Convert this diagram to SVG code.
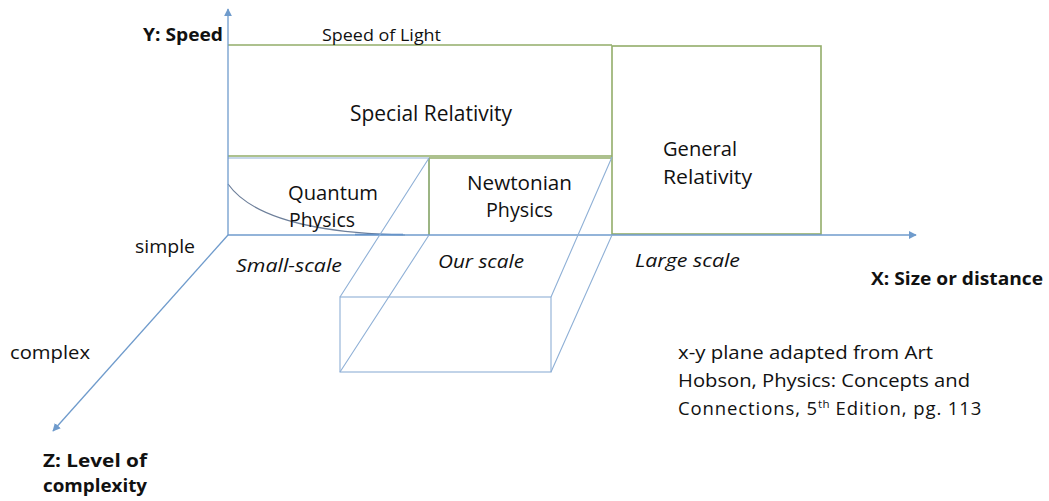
<svg xmlns="http://www.w3.org/2000/svg" width="1049" height="501" viewBox="0 0 1049 501">
<style>
text{font-family:"Open Sans",Lato,"Liberation Sans",sans-serif;fill:#111;}
.b{font-weight:bold;}
.i{font-style:italic;}
.ax{stroke:#6f9bcc;stroke-width:1.3;fill:none;}
.gr{stroke:#93ad6a;stroke-width:1.6;fill:none;}
.bl{stroke:#8fb0d6;stroke-width:1.1;fill:none;}
</style>
<defs>
<marker id="arr" viewBox="0 0 10 10" refX="9" refY="5" markerWidth="8" markerHeight="8" markerUnits="userSpaceOnUse" orient="auto">
<path d="M0,0 L10,5 L0,10 z" fill="#6f9bcc"/>
</marker>
</defs>
<rect width="1049" height="501" fill="#fff"/>

<g id="special-relativity">
<path class="gr" d="M228,45 H612 M228,156 H612"/>
<text x="350" y="121" font-size="21" textLength="162" lengthAdjust="spacingAndGlyphs">Special Relativity</text>
</g>
<g id="general-relativity">
<rect class="gr" x="612" y="46" width="209" height="188"/>
<text x="663" y="156" font-size="20" textLength="74" lengthAdjust="spacingAndGlyphs">General</text>
<text x="663" y="184" font-size="20" textLength="89" lengthAdjust="spacingAndGlyphs">Relativity</text>
</g>
<g id="quantum-physics">
<path class="bl" d="M228,158 H429 V235"/>
<path d="M228,184 Q262,232 405,235" stroke="#6d7f9a" stroke-width="1.2" fill="none"/>
<path d="M355,234.5 H403" stroke="#4b7fc0" stroke-width="1.6"/>
<text x="288" y="200" font-size="20" textLength="90" lengthAdjust="spacingAndGlyphs">Quantum</text>
<text x="289" y="227" font-size="20" textLength="66" lengthAdjust="spacingAndGlyphs">Physics</text>
</g>
<g id="newtonian-physics">
<path class="gr" d="M429,158 H612 M429,158 V235"/>
<text x="467" y="190" font-size="20" textLength="105" lengthAdjust="spacingAndGlyphs">Newtonian</text>
<text x="486" y="217" font-size="20" textLength="67" lengthAdjust="spacingAndGlyphs">Physics</text>
</g>
<g id="our-scale-box">
<rect class="bl" x="340" y="297" width="211" height="75"/>
</g>

<g id="connectors">
<path class="ax" d="M228,235 V9" marker-end="url(#arr)"/>
<path class="ax" d="M228,235 H916" marker-end="url(#arr)"/>
<path class="ax" d="M228,235 L53,431" marker-end="url(#arr)"/>
<path class="bl" d="M429,158 L340,297 M429,235 L340,372 M612,157 L551,297 M612,235 L551,372"/>
</g>

<g id="labels">
<text class="b" x="143" y="41" font-size="18" textLength="80" lengthAdjust="spacingAndGlyphs">Y: Speed</text>
<text x="322" y="41" font-size="17" textLength="119" lengthAdjust="spacingAndGlyphs">Speed of Light</text>
<text x="135" y="253" font-size="18.5" textLength="60" lengthAdjust="spacingAndGlyphs">simple</text>
<text class="i" x="236" y="272" font-size="18" textLength="106" lengthAdjust="spacingAndGlyphs">Small-scale</text>
<text class="i" x="438" y="268" font-size="18" textLength="86" lengthAdjust="spacingAndGlyphs">Our scale</text>
<text class="i" x="635" y="267" font-size="18" textLength="105" lengthAdjust="spacingAndGlyphs">Large scale</text>
<text class="b" x="871" y="285" font-size="18" textLength="172" lengthAdjust="spacingAndGlyphs">X: Size or distance</text>
<text x="10" y="359" font-size="18" textLength="80" lengthAdjust="spacingAndGlyphs">complex</text>
<text class="b" x="43" y="467" font-size="18.5" textLength="104" lengthAdjust="spacingAndGlyphs">Z: Level of</text>
<text class="b" x="43" y="492" font-size="18.5" textLength="104" lengthAdjust="spacingAndGlyphs">complexity</text>
<text x="678" y="359" font-size="18.5" textLength="255" lengthAdjust="spacingAndGlyphs">x-y plane adapted from Art</text>
<text x="678" y="387" font-size="18.5" textLength="292" lengthAdjust="spacingAndGlyphs">Hobson, Physics: Concepts and</text>
<text x="678" y="415" font-size="18.5" letter-spacing="0.9">Connections, 5<tspan dy="-7" font-size="11.5" letter-spacing="0.3">th</tspan><tspan dy="7"> Edition, pg. 113</tspan></text>
</g>
</svg>
